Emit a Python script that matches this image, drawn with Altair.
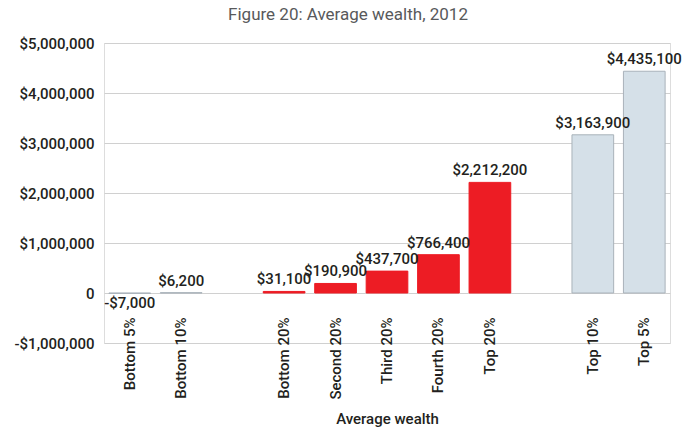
import altair as alt
import pandas as pd

# Categories (with two blank spacer slots, as in the reference)
slots = ["Bottom 5%", "Bottom 10%", " ", "Bottom 20%", "Second 20%", "Third 20%",
         "Fourth 20%", "Top 20%", "  ", "Top 10%", "Top 5%"]
groups = ["Bottom 5%", "Bottom 10%", "Bottom 20%", "Second 20%", "Third 20%",
          "Fourth 20%", "Top 20%", "Top 10%", "Top 5%"]
values = [-7000, 6200, 31100, 190900, 437700, 766400, 2212200, 3163900, 4435100]
kinds = ["tail", "tail", "quintile", "quintile", "quintile", "quintile", "quintile",
         "tail", "tail"]
y_ticks = [-1000000, 0, 1000000, 2000000, 3000000, 4000000, 5000000]


def money(v):
    s = "${:,}".format(abs(v))
    return "-" + s if v < 0 else s


df = pd.DataFrame({"group": groups, "value": values, "kind": kinds,
                   "label": [money(v) for v in values]})

FONT = "Roboto"
INK = "#231f20"

x = alt.X("group:N", scale=alt.Scale(domain=slots, paddingInner=0.19),
          axis=alt.Axis(title="Average wealth", labelAngle=-90, ticks=False, tickSize=0,
                        domain=False, labelPadding=0, offset=-26, grid=False,
                        labelFont=FONT, labelFontSize=15, labelFontWeight=500,
                        labelColor=INK, titleFont=FONT, titleFontSize=15,
                        titleFontWeight=500, titleColor=INK, titlePadding=12))
y = alt.Y("value:Q", scale=alt.Scale(domain=[-1000000, 5000000], nice=False),
          axis=alt.Axis(title=None, values=y_ticks, ticks=False, domain=False,
                        gridColor="#d0d0d0", gridWidth=1, labelPadding=10,
                        labelFont=FONT, labelFontSize=15, labelFontWeight=500,
                        labelColor=INK,
                        labelExpr="datum.value == 0 ? '0' : (datum.value < 0 ? '-$' : '$') + format(abs(datum.value), ',')"))

base = alt.Chart(df)

bars = base.mark_bar(strokeWidth=1).encode(
    x=x, y=y,
    color=alt.Color("kind:N", scale=alt.Scale(domain=["quintile", "tail"],
                                              range=["#ed1c24", "#d5e0e8"]), legend=None),
    stroke=alt.Stroke("kind:N", scale=alt.Scale(domain=["quintile", "tail"],
                                                range=["#ed1c24", "#a9b2ba"]), legend=None),
)

pos_labels = base.transform_filter("datum.value >= 0").mark_text(
    baseline="bottom", dy=-4, font=FONT, fontSize=15, fontWeight=500, color=INK
).encode(x="group:N", y="value:Q", text="label:N")

neg_labels = base.transform_filter("datum.value < 0").mark_text(
    baseline="top", dy=3, font=FONT, fontSize=15, fontWeight=500, color=INK
).encode(x="group:N", y="value:Q", text="label:N")

chart = alt.layer(bars, pos_labels, neg_labels).properties(
    width=566, height=300,
    title=alt.TitleParams("Figure 20: Average wealth, 2012", font=FONT, fontSize=17,
                          fontWeight="normal", color="#58595b", anchor="middle", dx=-39,
                          offset=12),
    autosize=alt.AutoSizeParams(type="none"),
    padding={"left": 104, "top": 43, "right": 13, "bottom": 88},
).configure_view(stroke=None).configure(background="white")

chart.save("out.html", embed_options={"renderer": "svg", "actions": False})
